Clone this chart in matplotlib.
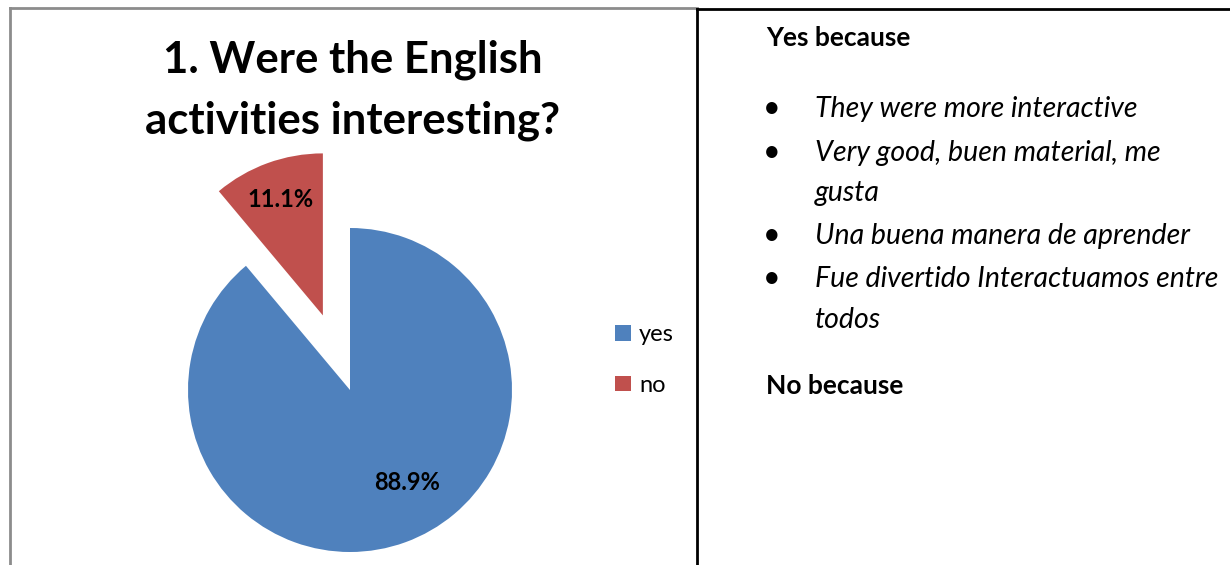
import matplotlib.pyplot as plt
from matplotlib.lines import Line2D

answers = ['yes', 'no']
shares = [88.9, 11.1]
colors = ['#4F81BD', '#C0504D']

title_lines = ['1. Were the English', 'activities interesting?']
yes_head = 'Yes because'
no_head = 'No because'
reasons = [
    ['They were more interactive'],
    ['Very good, buen material, me', 'gusta'],
    ['Una buena manera de aprender'],
    ['Fue divertido Interactuamos entre', 'todos'],
]

W, H = 1230, 565
plt.rcParams['font.family'] = ['Lato', 'DejaVu Sans']


def fx(x):
    return x / W


def fy(y):
    return 1 - y / H


fig = plt.figure(figsize=(W / 100, H / 100), dpi=100)

# table / chart borders
fig.add_artist(Line2D([fx(10), fx(10)], [fy(8), fy(565)], color='#8c8c8c', lw=2))
fig.add_artist(Line2D([fx(10), fx(697)], [fy(8), fy(8)], color='#8c8c8c', lw=2))
fig.add_artist(Line2D([fx(697), fx(1230)], [fy(9), fy(9)], color='black', lw=2))
fig.add_artist(Line2D([fx(697), fx(697)], [fy(9), fy(565)], color='black', lw=2))

# pie: radius 1 -> 162 px, centred at (350, 390)
r = 162
side = 520
cx, cy = 350, 390
ax = fig.add_axes([fx(cx - side / 2), fy(cy + side / 2), side / W, side / H])
wedges, _, pct = ax.pie(shares, colors=colors, startangle=90, counterclock=False,
                        explode=[0, 0.49], autopct='%.1f%%',
                        textprops=dict(fontsize=17, fontweight='bold', color='black'))
lim = side / 2 / r
ax.set_xlim(-lim, lim)
ax.set_ylim(-lim, lim)
ax.set_aspect('equal')
ax.axis('off')
pct[0].set_position((0.352, -0.568))
pct[1].set_position((-0.426, 1.173))
for t in pct:
    t.set_ha('center')
    t.set_va('center')

for y, line in zip([60, 121], title_lines):
    fig.text(fx(353), fy(y), line, ha='center', va='center', fontsize=31.5,
             fontweight='bold')

fig.legend(wedges, answers, loc='center left', bbox_to_anchor=(fx(606), fy(360)),
           frameon=False, fontsize=17, handlelength=0.65, handleheight=0.65,
           handletextpad=0.35, labelspacing=1.25, borderaxespad=0)

# right-hand cell
fig.text(fx(766), fy(38), yes_head, ha='left', va='center', fontsize=19, fontweight='bold')
line_y = [[107], [151, 191], [234], [277, 318]]
for ys, reason in zip(line_y, reasons):
    fig.text(fx(772), fy(ys[0] + 10), '\u2022', ha='center', va='baseline', fontsize=22)
    for y, part in zip(ys, reason):
        fig.text(fx(815), fy(y + 10), part, ha='left', va='baseline', fontsize=20.5,
                 style='italic')
fig.text(fx(766), fy(386), no_head, ha='left', va='center', fontsize=19, fontweight='bold')

fig.savefig('out.png', dpi=100)
